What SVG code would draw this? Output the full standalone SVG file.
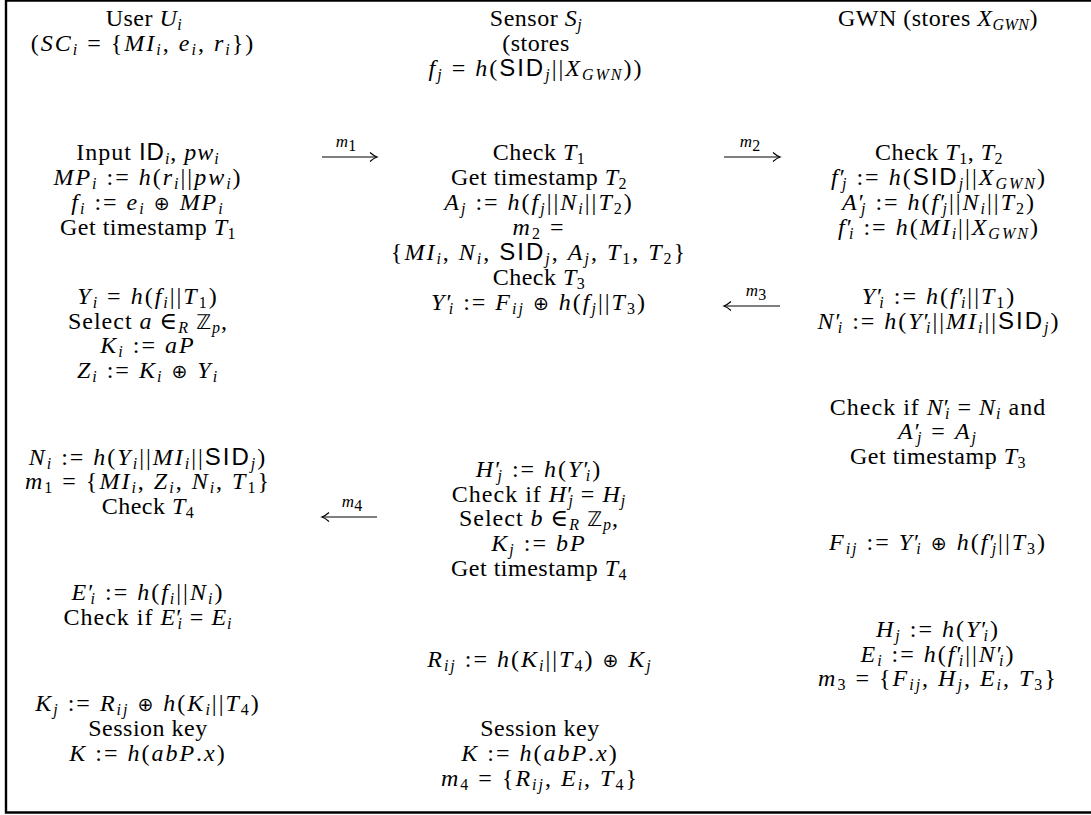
<svg xmlns="http://www.w3.org/2000/svg" width="1091" height="815" viewBox="0 0 1091 815">
<style>
text{font-family:"Liberation Serif","DejaVu Serif",serif;font-size:24px;fill:#000;text-anchor:middle;letter-spacing:0.5px}
text.m{letter-spacing:2px}
text.x{letter-spacing:1px}
.i{font-style:italic}
.s{font-style:italic;font-size:16px;baseline-shift:-4px}
.n{font-size:16px;baseline-shift:-4px}
.f{font-family:"Liberation Sans","DejaVu Sans",sans-serif;font-style:normal}
.z{font-family:"DejaVu Sans",sans-serif;font-size:20px}
.o{font-family:"DejaVu Sans",sans-serif;font-size:19px}
text.lbl{font-size:17px;font-style:italic;letter-spacing:0}
.arr{stroke:#000;stroke-width:1.2;fill:none}
</style>
<defs>
<marker id="ah" markerUnits="userSpaceOnUse" markerWidth="12" markerHeight="12" refX="0" refY="0" viewBox="-9 -6 10 12" orient="auto" overflow="visible">
<path d="M-7,-4.5 Q-3,-1 0,0 Q-3,1 -7,4.5" fill="none" stroke="#000" stroke-width="1.2"/>
</marker>
</defs>
<rect width="1091" height="815" fill="#fff"/>
<path d="M1091,0.5 H6 V812.5 H1091" fill="none" stroke="#000" stroke-width="2.4"/>

<g id="user">
<g id="user-header">
<text x="144" y="26">User <tspan class="i">U</tspan><tspan class="s">i</tspan></text>
<text class="m" x="143" y="51">(<tspan class="i">SC</tspan><tspan class="s">i</tspan> = {<tspan class="i">MI</tspan><tspan class="s">i</tspan>, <tspan class="i">e</tspan><tspan class="s">i</tspan>, <tspan class="i">r</tspan><tspan class="s">i</tspan>})</text>
</g>
<g id="user-step1">
<text class="x" x="148" y="160">Input <tspan class="f">ID</tspan><tspan class="s">i</tspan>, <tspan class="i">pw</tspan><tspan class="s">i</tspan></text>
<text class="m" x="148" y="185"><tspan class="i">MP</tspan><tspan class="s">i</tspan> := <tspan class="i">h</tspan>(<tspan class="i">r</tspan><tspan class="s">i</tspan>||<tspan class="i">pw</tspan><tspan class="s">i</tspan>)</text>
<text class="m" x="148" y="210"><tspan class="i">f</tspan><tspan class="s">i</tspan> := <tspan class="i">e</tspan><tspan class="s">i</tspan> <tspan class="o">⊕</tspan> <tspan class="i">MP</tspan><tspan class="s">i</tspan></text>
<text x="148" y="235">Get timestamp <tspan class="i">T</tspan><tspan class="n">1</tspan></text>
</g>
<g id="user-step2">
<text class="m" x="148" y="304"><tspan class="i">Y</tspan><tspan class="s">i</tspan> = <tspan class="i">h</tspan>(<tspan class="i">f</tspan><tspan class="s">i</tspan>||<tspan class="i">T</tspan><tspan class="n">1</tspan>)</text>
<text class="x" x="148" y="329">Select <tspan class="i">a</tspan> ∈<tspan class="s">R</tspan> <tspan class="z">ℤ</tspan><tspan class="s">p</tspan>,</text>
<text class="m" x="148" y="353"><tspan class="i">K</tspan><tspan class="s">i</tspan> := <tspan class="i">aP</tspan></text>
<text class="m" x="148" y="378"><tspan class="i">Z</tspan><tspan class="s">i</tspan> := <tspan class="i">K</tspan><tspan class="s">i</tspan> <tspan class="o">⊕</tspan> <tspan class="i">Y</tspan><tspan class="s">i</tspan></text>
</g>
<g id="user-step3">
<text class="m" x="148" y="465"><tspan class="i">N</tspan><tspan class="s">i</tspan> := <tspan class="i">h</tspan>(<tspan class="i">Y</tspan><tspan class="s">i</tspan>||<tspan class="i">MI</tspan><tspan class="s">i</tspan>||<tspan class="f">SID</tspan><tspan class="s">j</tspan>)</text>
<text class="m" x="148" y="489"><tspan class="i">m</tspan><tspan class="n">1</tspan> = {<tspan class="i">MI</tspan><tspan class="s">i</tspan>, <tspan class="i">Z</tspan><tspan class="s">i</tspan>, <tspan class="i">N</tspan><tspan class="s">i</tspan>, <tspan class="i">T</tspan><tspan class="n">1</tspan>}</text>
<text x="148" y="514">Check <tspan class="i">T</tspan><tspan class="n">4</tspan></text>
</g>
<g id="user-step4">
<text class="m" x="148" y="600"><tspan class="i">E</tspan>′<tspan class="s" dx="-5">i</tspan> := <tspan class="i">h</tspan>(<tspan class="i">f</tspan><tspan class="s">i</tspan>||<tspan class="i">N</tspan><tspan class="s">i</tspan>)</text>
<text class="x" x="148" y="625">Check if <tspan class="i">E</tspan>′<tspan class="s" dx="-5">i</tspan> = <tspan class="i">E</tspan><tspan class="s">i</tspan></text>
</g>
<g id="user-step5">
<text class="m" x="148" y="711"><tspan class="i">K</tspan><tspan class="s">j</tspan> := <tspan class="i">R</tspan><tspan class="s">ij</tspan> <tspan class="o">⊕</tspan> <tspan class="i">h</tspan>(<tspan class="i">K</tspan><tspan class="s">i</tspan>||<tspan class="i">T</tspan><tspan class="n">4</tspan>)</text>
<text x="148" y="736">Session key</text>
<text class="m" x="148" y="761"><tspan class="i">K</tspan> := <tspan class="i">h</tspan>(<tspan class="i">abP</tspan>.<tspan class="i">x</tspan>)</text>
</g>
</g>

<g id="sensor">
<g id="sensor-header">
<text x="536" y="26">Sensor <tspan class="i">S</tspan><tspan class="s">j</tspan></text>
<text x="536" y="51">(stores</text>
<text class="m" x="536" y="76"><tspan class="i">f</tspan><tspan class="s">j</tspan> = <tspan class="i">h</tspan>(<tspan class="f">SID</tspan><tspan class="s">j</tspan>||<tspan class="i">X</tspan><tspan class="s">GWN</tspan>))</text>
</g>
<g id="sensor-step1">
<text x="539" y="160">Check <tspan class="i">T</tspan><tspan class="n">1</tspan></text>
<text x="539" y="185">Get timestamp <tspan class="i">T</tspan><tspan class="n">2</tspan></text>
<text class="m" x="539" y="210"><tspan class="i">A</tspan><tspan class="s">j</tspan> := <tspan class="i">h</tspan>(<tspan class="i">f</tspan><tspan class="s">j</tspan>||<tspan class="i">N</tspan><tspan class="s">i</tspan>||<tspan class="i">T</tspan><tspan class="n">2</tspan>)</text>
<text class="m" x="539" y="235"><tspan class="i">m</tspan><tspan class="n">2</tspan> =</text>
<text class="m" x="539" y="260">{<tspan class="i">MI</tspan><tspan class="s">i</tspan>, <tspan class="i">N</tspan><tspan class="s">i</tspan>, <tspan class="f">SID</tspan><tspan class="s">j</tspan>, <tspan class="i">A</tspan><tspan class="s">j</tspan>, <tspan class="i">T</tspan><tspan class="n">1</tspan>, <tspan class="i">T</tspan><tspan class="n">2</tspan>}</text>
<text x="539" y="285">Check <tspan class="i">T</tspan><tspan class="n">3</tspan></text>
<text class="m" x="539" y="310"><tspan class="i">Y</tspan>′<tspan class="s" dx="-5">i</tspan> := <tspan class="i">F</tspan><tspan class="s">ij</tspan> <tspan class="o">⊕</tspan> <tspan class="i">h</tspan>(<tspan class="i">f</tspan><tspan class="s">j</tspan>||<tspan class="i">T</tspan><tspan class="n">3</tspan>)</text>
</g>
<g id="sensor-step2">
<text class="m" x="539" y="477"><tspan class="i">H</tspan>′<tspan class="s" dx="-5">j</tspan> := <tspan class="i">h</tspan>(<tspan class="i">Y</tspan>′<tspan class="s" dx="-5">i</tspan>)</text>
<text class="x" x="539" y="502">Check if <tspan class="i">H</tspan>′<tspan class="s" dx="-5">j</tspan> = <tspan class="i">H</tspan><tspan class="s">j</tspan></text>
<text class="x" x="539" y="526">Select <tspan class="i">b</tspan> ∈<tspan class="s">R</tspan> <tspan class="z">ℤ</tspan><tspan class="s">p</tspan>,</text>
<text class="m" x="539" y="551"><tspan class="i">K</tspan><tspan class="s">j</tspan> := <tspan class="i">bP</tspan></text>
<text x="539" y="576">Get timestamp <tspan class="i">T</tspan><tspan class="n">4</tspan></text>
</g>
<g id="sensor-step3">
<text class="m" x="540" y="667"><tspan class="i">R</tspan><tspan class="s">ij</tspan> := <tspan class="i">h</tspan>(<tspan class="i">K</tspan><tspan class="s">i</tspan>||<tspan class="i">T</tspan><tspan class="n">4</tspan>) <tspan class="o">⊕</tspan> <tspan class="i">K</tspan><tspan class="s">j</tspan></text>
</g>
<g id="sensor-step4">
<text x="540" y="736">Session key</text>
<text class="m" x="540" y="761"><tspan class="i">K</tspan> := <tspan class="i">h</tspan>(<tspan class="i">abP</tspan>.<tspan class="i">x</tspan>)</text>
<text class="m" x="540" y="786"><tspan class="i">m</tspan><tspan class="n">4</tspan> = {<tspan class="i">R</tspan><tspan class="s">ij</tspan>, <tspan class="i">E</tspan><tspan class="s">i</tspan>, <tspan class="i">T</tspan><tspan class="n">4</tspan>}</text>
</g>
</g>

<g id="gwn">
<g id="gwn-header">
<text x="938" y="26">GWN (stores <tspan class="i">X</tspan><tspan class="s">GWN</tspan>)</text>
</g>
<g id="gwn-step1">
<text x="939" y="160">Check <tspan class="i">T</tspan><tspan class="n">1</tspan>, <tspan class="i">T</tspan><tspan class="n">2</tspan></text>
<text class="m" x="939" y="185"><tspan class="i">f</tspan>′<tspan class="s" dx="-5">j</tspan> := <tspan class="i">h</tspan>(<tspan class="f">SID</tspan><tspan class="s">j</tspan>||<tspan class="i">X</tspan><tspan class="s">GWN</tspan>)</text>
<text class="m" x="939" y="210"><tspan class="i">A</tspan>′<tspan class="s" dx="-5">j</tspan> := <tspan class="i">h</tspan>(<tspan class="i">f</tspan>′<tspan class="s" dx="-5">j</tspan>||<tspan class="i">N</tspan><tspan class="s">i</tspan>||<tspan class="i">T</tspan><tspan class="n">2</tspan>)</text>
<text class="m" x="939" y="235"><tspan class="i">f</tspan>′<tspan class="s" dx="-5">i</tspan> := <tspan class="i">h</tspan>(<tspan class="i">MI</tspan><tspan class="s">i</tspan>||<tspan class="i">X</tspan><tspan class="s">GWN</tspan>)</text>
</g>
<g id="gwn-step2">
<text class="m" x="939" y="304"><tspan class="i">Y</tspan>′<tspan class="s" dx="-5">i</tspan> := <tspan class="i">h</tspan>(<tspan class="i">f</tspan>′<tspan class="s" dx="-5">i</tspan>||<tspan class="i">T</tspan><tspan class="n">1</tspan>)</text>
<text class="m" x="939" y="329"><tspan class="i">N</tspan>′<tspan class="s" dx="-5">i</tspan> := <tspan class="i">h</tspan>(<tspan class="i">Y</tspan>′<tspan class="s" dx="-5">i</tspan>||<tspan class="i">MI</tspan><tspan class="s">i</tspan>||<tspan class="f">SID</tspan><tspan class="s">j</tspan>)</text>
</g>
<g id="gwn-step3">
<text class="x" x="938" y="415">Check if <tspan class="i">N</tspan>′<tspan class="s" dx="-5">i</tspan> = <tspan class="i">N</tspan><tspan class="s">i</tspan> and</text>
<text class="m" x="938" y="439"><tspan class="i">A</tspan>′<tspan class="s" dx="-5">j</tspan> = <tspan class="i">A</tspan><tspan class="s">j</tspan></text>
<text x="938" y="464">Get timestamp <tspan class="i">T</tspan><tspan class="n">3</tspan></text>
</g>
<g id="gwn-step4">
<text class="m" x="938" y="550"><tspan class="i">F</tspan><tspan class="s">ij</tspan> := <tspan class="i">Y</tspan>′<tspan class="s" dx="-5">i</tspan> <tspan class="o">⊕</tspan> <tspan class="i">h</tspan>(<tspan class="i">f</tspan>′<tspan class="s" dx="-5">j</tspan>||<tspan class="i">T</tspan><tspan class="n">3</tspan>)</text>
</g>
<g id="gwn-step5">
<text class="m" x="938" y="637"><tspan class="i">H</tspan><tspan class="s">j</tspan> := <tspan class="i">h</tspan>(<tspan class="i">Y</tspan>′<tspan class="s" dx="-5">i</tspan>)</text>
<text class="m" x="938" y="662"><tspan class="i">E</tspan><tspan class="s">i</tspan> := <tspan class="i">h</tspan>(<tspan class="i">f</tspan>′<tspan class="s" dx="-5">i</tspan>||<tspan class="i">N</tspan>′<tspan class="s" dx="-5">i</tspan>)</text>
<text class="m" x="938" y="686"><tspan class="i">m</tspan><tspan class="n">3</tspan> = {<tspan class="i">F</tspan><tspan class="s">ij</tspan>, <tspan class="i">H</tspan><tspan class="s">j</tspan>, <tspan class="i">E</tspan><tspan class="s">i</tspan>, <tspan class="i">T</tspan><tspan class="n">3</tspan>}</text>
</g>
</g>

<g id="connectors">
<line class="arr" x1="322" y1="157" x2="377" y2="157" marker-end="url(#ah)"/>
<text class="lbl" x="346" y="147">m<tspan class="n" font-style="normal">1</tspan></text>
<line class="arr" x1="724" y1="157" x2="780" y2="157" marker-end="url(#ah)"/>
<text class="lbl" x="750" y="147">m<tspan class="n" font-style="normal">2</tspan></text>
<line class="arr" x1="780" y1="306" x2="724" y2="306" marker-end="url(#ah)"/>
<text class="lbl" x="756" y="296">m<tspan class="n" font-style="normal">3</tspan></text>
<line class="arr" x1="377" y1="517" x2="322" y2="517" marker-end="url(#ah)"/>
<text class="lbl" x="352" y="507">m<tspan class="n" font-style="normal">4</tspan></text>
</g>
</svg>
